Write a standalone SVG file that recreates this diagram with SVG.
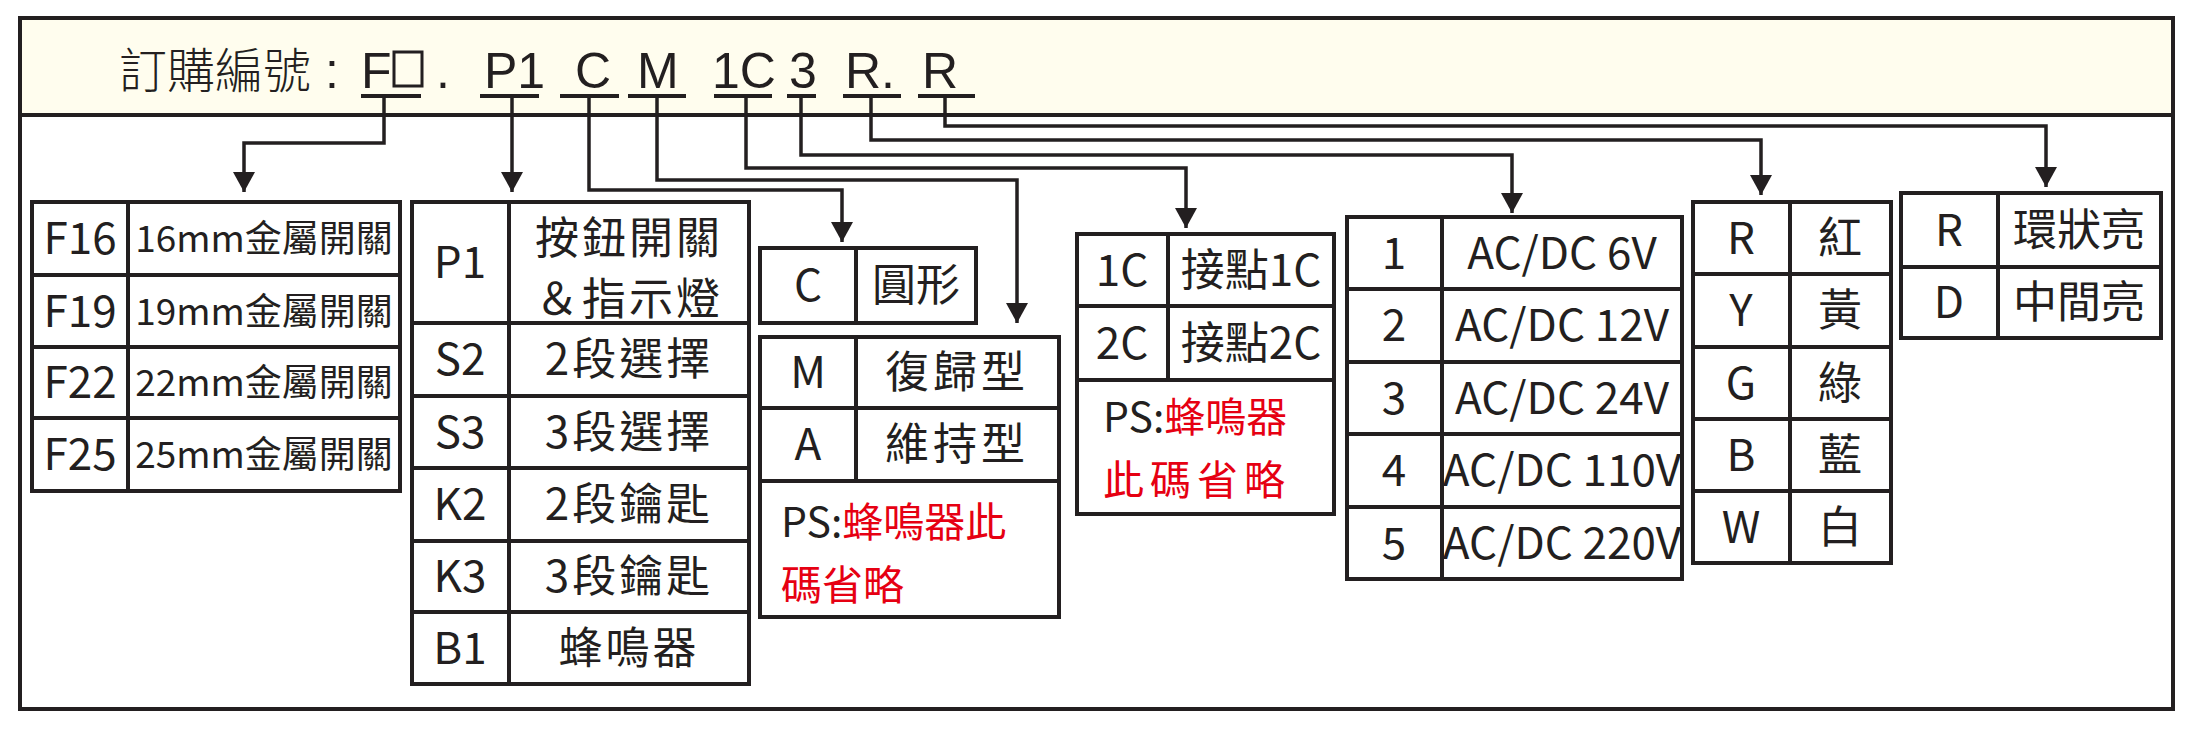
<svg xmlns="http://www.w3.org/2000/svg" width="2204" height="741" viewBox="0 0 2204 741">
<style>
.b{fill:none;stroke:#231f20;stroke-width:4}
.w{fill:#fff;stroke:#231f20;stroke-width:4}
.c{fill:none;stroke:#231f20;stroke-width:3.5}
text{font-family:"Noto Sans CJK TC","Noto Sans",sans-serif;fill:#231f20}
.t{font-size:44px;text-anchor:middle}
.s{font-size:37px;text-anchor:middle}
.r{fill:#e60012}
.h{font-family:"Liberation Sans","Noto Sans CJK TC",sans-serif;font-size:50px}
</style>
<defs>
<marker id="a" markerUnits="userSpaceOnUse" markerWidth="20" markerHeight="22" viewBox="0 0 20 22" refX="20" refY="11" orient="auto">
<path d="M0,0 L20,11 L0,22 z" fill="#231f20"/>
</marker>
</defs>
<rect x="20" y="18" width="2153" height="691" fill="#fff" stroke="#231f20" stroke-width="4"/>
<rect x="20" y="18" width="2153" height="97" fill="#fffdee" stroke="#231f20" stroke-width="4"/>
<g id="header">
<text x="119" y="88" class="h" font-size="48"><tspan font-family="Noto Sans CJK TC" font-weight="300" font-size="48">訂購編號</tspan> : </text>
<text x="361" y="88" class="h">F</text>
<rect x="394" y="52" width="28" height="34" fill="none" stroke="#231f20" stroke-width="3"/>
<text x="436" y="88" class="h">.</text>
<text x="484" y="88" class="h">P1</text>
<text x="575" y="88" class="h">C</text>
<text x="637" y="88" class="h">M</text>
<text x="712" y="88" class="h">1C</text>
<text x="789" y="88" class="h">3</text>
<text x="845" y="88" class="h">R.</text>
<text x="922" y="88" class="h">R</text>
<g stroke="#231f20" stroke-width="4">
<line x1="361" y1="96" x2="421" y2="96"/>
<line x1="480" y1="96" x2="539" y2="96"/>
<line x1="560" y1="96" x2="619" y2="96"/>
<line x1="628" y1="96" x2="686" y2="96"/>
<line x1="714" y1="96" x2="772" y2="96"/>
<line x1="787" y1="96" x2="816" y2="96"/>
<line x1="843" y1="96" x2="901" y2="96"/>
<line x1="918" y1="96" x2="975" y2="96"/>
</g>
</g>
<g id="connectors">
<polyline class="c" marker-end="url(#a)" points="384,96 384,143 244,143 244,192"/>
<polyline class="c" marker-end="url(#a)" points="512,96 512,192"/>
<polyline class="c" marker-end="url(#a)" points="589,96 589,190 842,190 842,242"/>
<polyline class="c" marker-end="url(#a)" points="657,96 657,180 1017,180 1017,323"/>
<polyline class="c" marker-end="url(#a)" points="746,96 746,168 1186,168 1186,228"/>
<polyline class="c" marker-end="url(#a)" points="801,96 801,155 1512,155 1512,213"/>
<polyline class="c" marker-end="url(#a)" points="871,96 871,140 1761,140 1761,195"/>
<polyline class="c" marker-end="url(#a)" points="945,96 945,126 2046,126 2046,187"/>
</g>
<g id="size-table">
<rect class="w" x="32" y="202" width="368" height="289"/>
<path class="b" d="M128,202V491M32,275H400M32,347H400M32,418H400"/>
<text class="t" x="80" y="254">F16</text><text class="s" x="264" y="252">16mm金屬開關</text>
<text class="t" x="80" y="327">F19</text><text class="s" x="264" y="325">19mm金屬開關</text>
<text class="t" x="80" y="398">F22</text><text class="s" x="264" y="396">22mm金屬開關</text>
<text class="t" x="80" y="470">F25</text><text class="s" x="264" y="468">25mm金屬開關</text>
</g>
<g id="type-table">
<rect class="w" x="412" y="202" width="337" height="482"/>
<path class="b" d="M509,202V684M412,323H749M412,396H749M412,468H749M412,541H749M412,612H749"/>
<text class="t" x="460" y="278">P1</text>
<text class="t" x="629" y="254" letter-spacing="3">按鈕開關</text>
<text class="t" x="629" y="315" letter-spacing="3">＆指示燈</text>
<text class="t" x="460" y="375">S2</text><text class="t" x="629" y="375" letter-spacing="3">2段選擇</text>
<text class="t" x="460" y="448">S3</text><text class="t" x="629" y="448" letter-spacing="3">3段選擇</text>
<text class="t" x="460" y="520">K2</text><text class="t" x="629" y="520" letter-spacing="3">2段鑰匙</text>
<text class="t" x="460" y="592">K3</text><text class="t" x="629" y="592" letter-spacing="3">3段鑰匙</text>
<text class="t" x="460" y="664">B1</text><text class="t" x="629" y="664" letter-spacing="3">蜂鳴器</text>
</g>
<g id="shape-table">
<rect class="w" x="760" y="248" width="216" height="75"/>
<path class="b" d="M856,248V323"/>
<text class="t" x="808" y="301">C</text><text class="t" x="916" y="301">圓形</text>
</g>
<g id="action-table">
<rect class="w" x="760" y="337" width="299" height="280"/>
<path class="b" d="M856,337V481M760,408H1059M760,481H1059"/>
<text class="t" x="808" y="388">M</text><text class="t" x="957" y="388" letter-spacing="4">復歸型</text>
<text class="t" x="808" y="460">A</text><text class="t" x="957" y="460" letter-spacing="4">維持型</text>
<text x="781" y="537" font-size="41">PS:<tspan class="r">蜂鳴器此</tspan></text>
<text x="781" y="600" font-size="41" class="r">碼省略</text>
</g>
<g id="contact-table">
<rect class="w" x="1077" y="234" width="257" height="280"/>
<path class="b" d="M1168,234V380M1077,306H1334M1077,380H1334"/>
<text class="t" x="1122" y="286">1C</text><text class="t" x="1251" y="286">接點1C</text>
<text class="t" x="1122" y="359">2C</text><text class="t" x="1251" y="359">接點2C</text>
<text x="1103" y="432" font-size="41">PS:<tspan class="r">蜂鳴器</tspan></text>
<text x="1103" y="495" font-size="41" class="r" letter-spacing="6">此碼省略</text>
</g>
<g id="voltage-table">
<rect class="w" x="1347" y="217" width="335" height="362"/>
<path class="b" d="M1442,217V579M1347,289H1682M1347,362H1682M1347,434H1682M1347,507H1682"/>
<text class="t" x="1394" y="269">1</text><text class="t" x="1562" y="269" font-size="42">AC/DC 6V</text>
<text class="t" x="1394" y="341">2</text><text class="t" x="1562" y="341" font-size="42">AC/DC 12V</text>
<text class="t" x="1394" y="414">3</text><text class="t" x="1562" y="414" font-size="42">AC/DC 24V</text>
<text class="t" x="1394" y="486">4</text><text class="t" x="1562" y="486" font-size="42">AC/DC 110V</text>
<text class="t" x="1394" y="559">5</text><text class="t" x="1562" y="559" font-size="42">AC/DC 220V</text>
</g>
<g id="color-table">
<rect class="w" x="1693" y="202" width="198" height="361"/>
<path class="b" d="M1790,202V563M1693,274H1891M1693,347H1891M1693,419H1891M1693,491H1891"/>
<text class="t" x="1741" y="254">R</text><text class="t" x="1840" y="254">紅</text>
<text class="t" x="1741" y="326">Y</text><text class="t" x="1840" y="326">黃</text>
<text class="t" x="1741" y="399">G</text><text class="t" x="1840" y="399">綠</text>
<text class="t" x="1741" y="471">B</text><text class="t" x="1840" y="471">藍</text>
<text class="t" x="1741" y="543">W</text><text class="t" x="1840" y="543">白</text>
</g>
<g id="light-table">
<rect class="w" x="1901" y="193" width="260" height="145"/>
<path class="b" d="M1998,193V338M1901,267H2161"/>
<text class="t" x="1949" y="246">R</text><text class="t" x="2079" y="246">環狀亮</text>
<text class="t" x="1949" y="318">D</text><text class="t" x="2079" y="318">中間亮</text>
</g>
</svg>
